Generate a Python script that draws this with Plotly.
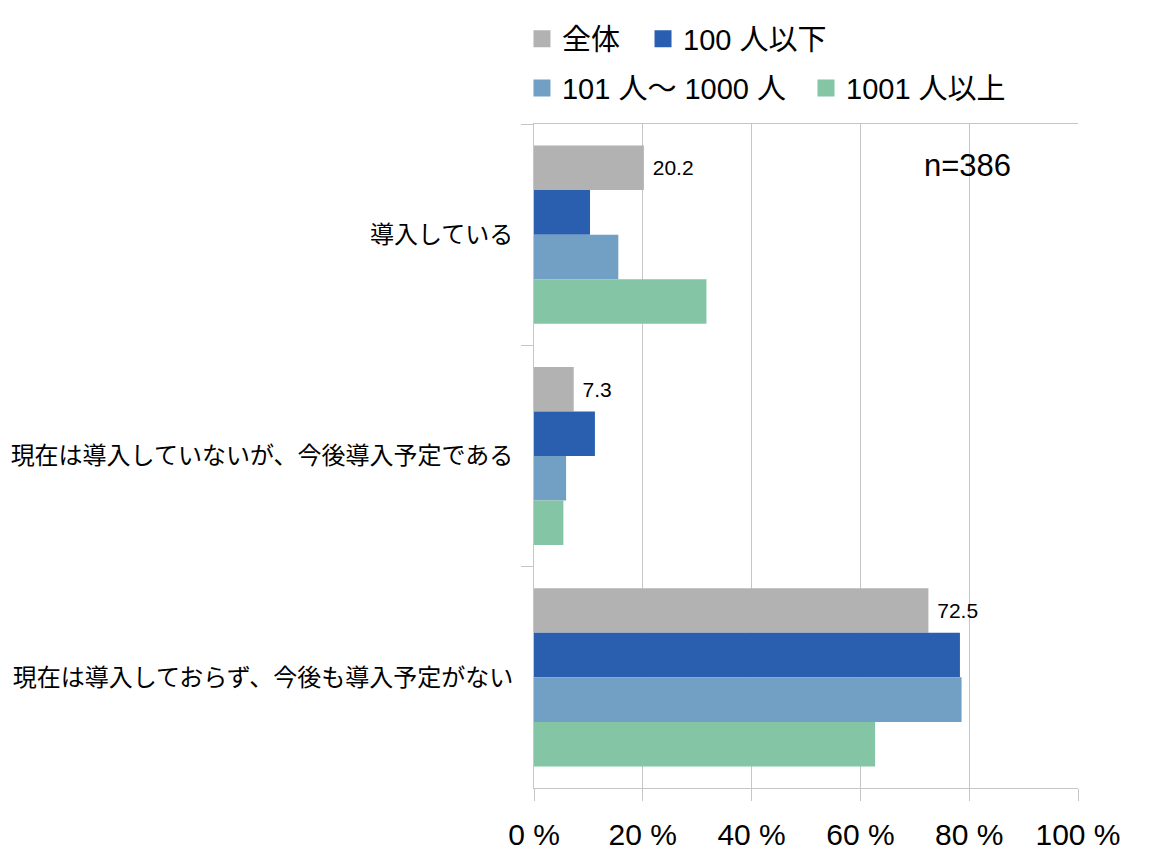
import plotly.graph_objects as go

# 回答カテゴリ（上から順）
categories = [
    "導入している",
    "現在は導入していないが、今後導入予定である",
    "現在は導入しておらず、今後も導入予定がない",
]

# 企業規模別の割合（%）
series_names = ["全体", "100 人以下", "101 人〜 1000 人", "1001 人以上"]
total = [20.2, 7.3, 72.5]
under_100 = [10.3, 11.2, 78.3]
from_101_to_1000 = [15.5, 5.9, 78.6]
over_1001 = [31.7, 5.4, 62.7]

x_ticks = [0, 20, 40, 60, 80, 100]
x_tick_labels = ["0 %", "20 %", "40 %", "60 %", "80 %", "100 %"]
sample_note = "n=386"

colors = ["#b2b2b2", "#2a5fb0", "#729fc4", "#83c5a5"]
grid_color = "#c6c6c6"
font_family = "Liberation Sans, Noto Sans CJK JP, sans-serif"

values = [total, under_100, from_101_to_1000, over_1001]
legend_ids = ["legend", "legend2", "legend3", "legend4"]

fig = go.Figure()

# 棒（凡例は別のダミー系列で出す）
for i, (name, vals) in enumerate(zip(series_names, values)):
    fig.add_trace(go.Bar(
        y=categories,
        x=vals,
        name=name,
        orientation="h",
        marker=dict(color=colors[i], line=dict(width=0)),
        showlegend=False,
        text=vals if i == 0 else None,
        texttemplate=" %{x:.1f}" if i == 0 else None,
        textposition="outside" if i == 0 else "none",
        textfont=dict(size=21, color="#000000", family=font_family),
        cliponaxis=False,
        hoverinfo="x+name",
    ))

# 凡例用（四角を大きく見せるため枠線付き）
for i, name in enumerate(series_names):
    fig.add_trace(go.Bar(
        y=[categories[0]],
        x=[None],
        name=name,
        orientation="h",
        yaxis="y2",
        marker=dict(color=colors[i], line=dict(width=5, color=colors[i])),
        legend=legend_ids[i],
        showlegend=True,
        hoverinfo="skip",
    ))

fig.add_annotation(
    x=79.6, y=0.937, xref="x", yref="paper",
    xanchor="center", yanchor="middle",
    text=sample_note, showarrow=False,
    font=dict(size=31, color="#000000", family="Liberation Sans, sans-serif"),
)

legend_style = dict(
    orientation="h",
    xanchor="left",
    yanchor="middle",
    font=dict(size=29, color="#000000", family=font_family),
    bgcolor="rgba(0,0,0,0)",
    itemclick=False,
    itemdoubleclick=False,
)

# 凡例の位置（プロット左端 534px、幅 544px 基準）
fig.update_layout(
    width=1152,
    height=863,
    margin=dict(l=534, r=74, t=124, b=75),
    paper_bgcolor="#ffffff",
    plot_bgcolor="#ffffff",
    barmode="group",
    bargap=0.195,
    bargroupgap=0,
    font=dict(family=font_family, color="#000000"),
    legend=dict(x=-0.0221, y=1.128, **legend_style),
    legend2=dict(x=0.2004, y=1.128, **legend_style),
    legend3=dict(x=-0.0221, y=1.054, **legend_style),
    legend4=dict(x=0.5, y=1.054, **legend_style),
    xaxis=dict(
        range=[0, 100],
        tickvals=x_ticks,
        ticktext=x_tick_labels,
        tickfont=dict(size=30, color="#000000"),
        showgrid=True,
        gridcolor=grid_color,
        gridwidth=1,
        showline=True,
        linecolor=grid_color,
        linewidth=1,
        mirror=True,
        ticks="outside",
        ticklen=12,
        tickcolor=grid_color,
        zeroline=False,
        ticklabelstandoff=8,
    ),
    yaxis=dict(
        autorange="reversed",
        tickson="boundaries",
        ticks="outside",
        ticklen=12,
        tickcolor=grid_color,
        showline=True,
        linecolor=grid_color,
        linewidth=1,
        showgrid=False,
        tickfont=dict(size=24, color="#000000"),
        ticklabelstandoff=15,
    ),
    yaxis2=dict(
        overlaying="y",
        visible=False,
        autorange="reversed",
        categoryorder="array",
        categoryarray=categories,
    ),
)

# ページ既定の余白をなくして 1152x863 にぴったり合わせる
fig.write_html(
    "out.html",
    config={"displayModeBar": False},
    post_script="document.body.style.margin='0';document.body.style.overflow='hidden';",
)
